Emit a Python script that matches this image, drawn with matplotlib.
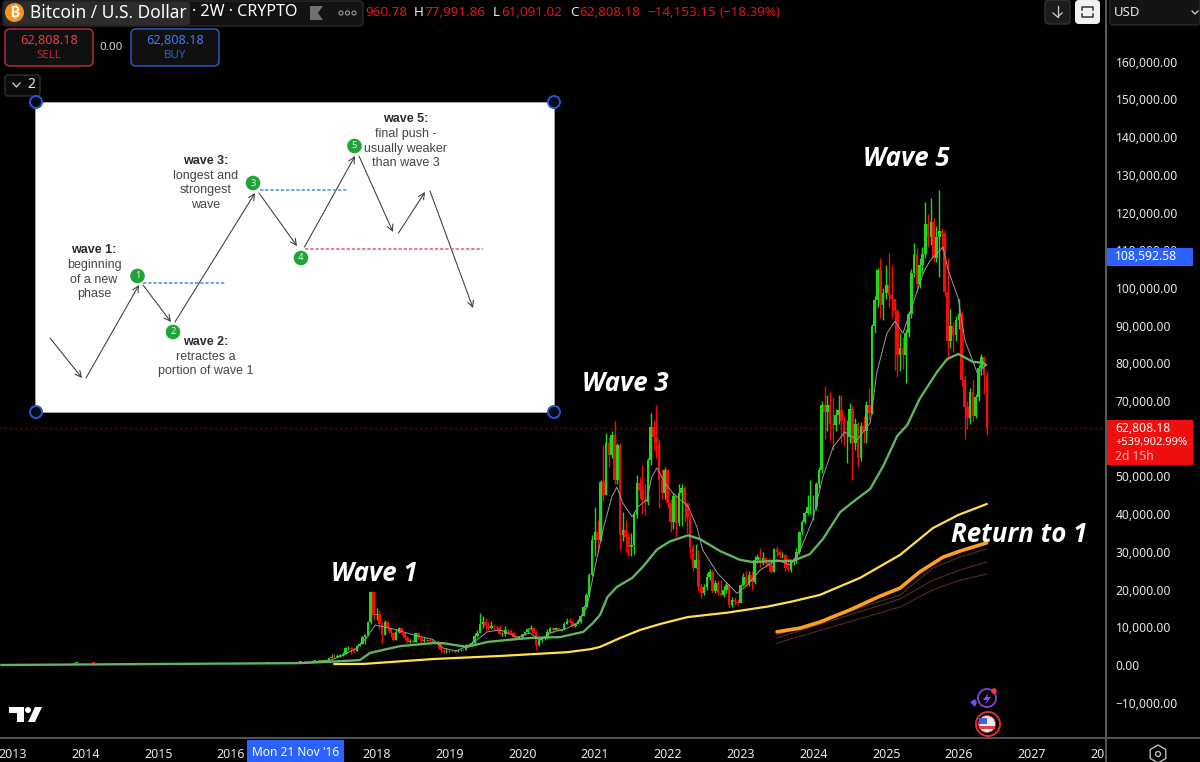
import numpy as np
import matplotlib
matplotlib.use("Agg")
import matplotlib.pyplot as plt
from matplotlib.patches import FancyBboxPatch, Rectangle, Circle, Polygon, RegularPolygon

# ---------- data (prices in thousands of USD unless noted) ----------
closes_2013 = [.013,.014,.017,.021,.026,.033,.047,.09,.11,.12,.12,.125,.11,.09,.09,.1,.12,.13,.14,.14,.18,.2,.4,.85,.8,.75]
closes_2014 = [.8,.85,.7,.6,.55,.45,.45,.5,.45,.45,.55,.6,.62,.6,.6,.55,.5,.45,.4,.35,.38,.36,.37,.38,.35,.32]
closes_2015 = [.3,.22,.24,.25,.27,.28,.25,.24,.23,.24,.23,.24,.28,.28,.29,.27,.23,.23,.24,.25,.28,.35,.33,.37,.43,.43]
closes_2016 = [.43,.38,.38,.43,.42,.42,.42,.45,.46,.53,.58,.65,.65,.67,.65,.57,.57,.6,.6,.62,.63,.72,.73,.77,.9,.95]
candles_2017 = [(1.0,1.1,.9),(1.0,1.05,.9),(1.0,1.1,.95),(1.15,1.2,1.0),(1.2,1.3,1.1),(1.25,1.3,1.0),(1.1,1.25,1.0),(1.25,1.3,1.1),(1.4,1.5,1.2),(1.8,1.9,1.4),
 (2.2,2.8,1.8),(2.1,2.8,1.9),(2.3,2.9,2.0),(2.6,3.0,2.2),(3.0,3.4,2.5),(4.4,4.7,3.0),(4.5,5.0,4.0),(4.2,4.9,3.0),(3.7,4.4,3.1),(5.0,5.3,3.7),
 (5.7,6.1,5.0),(7.5,7.8,5.5),(8.0,8.3,5.6),(11.5,11.8,7.8),(19.3,19.6,11.0),(13.2,17.5,12.0)]
candles_2018 = [(13.5,15.0,12.0),(11.0,14.5,9.5),(8.0,11.5,5.9),(11.5,12.0,8.0),(9.7,11.8,9.0),(8.4,10.2,7.5),(6.6,8.8,6.3),(8.8,9.5,6.5),(9.7,10.0,8.5),(8.4,9.9,8.0),
 (7.1,8.5,6.7),(6.0,7.6,5.9),(6.4,6.8,5.8),(6.1,6.9,5.8),(8.4,8.6,6.0),(7.2,8.5,6.8),(6.4,7.4,5.9),(6.6,7.4,6.0),(6.6,7.0,6.3),(6.4,6.8,6.1),
 (6.4,6.7,6.2),(6.3,6.5,6.0),(5.5,6.4,4.4),(4.0,4.6,3.2),(3.7,4.2,3.2),(3.8,4.4,3.3)]
candles_2019 = [(3.8,4.1,3.4),(3.6,4.1,3.4),(3.7,3.9,3.4),(3.9,4.2,3.5),(4.0,4.2,3.8),(4.1,4.3,3.9),(5.2,5.5,4.0),(5.3,5.6,5.0),(5.8,6.3,5.2),(7.8,8.4,5.6),
 (8.6,9.4,7.5),(10.8,13.7,8.4),(11.5,13.0,9.7),(10.3,12.5,9.3),(9.8,11.5,9.2),(10.4,11.6,9.5),(10.1,10.9,9.4),(9.7,10.5,9.3),(8.2,10.5,8.0),(8.3,8.8,7.7),
 (9.2,10.4,7.8),(9.0,9.5,8.3),(8.6,9.5,8.1),(7.3,9.1,6.5),(7.2,7.8,6.6),(7.3,7.7,6.9)]
candles_2020 = [(8.1,8.3,7.0),(8.8,9.1,8.0),(9.5,9.8,8.5),(9.8,10.5,9.2),(8.6,10.2,8.4),(5.2,9.2,4.0),(6.6,6.9,5.0),(6.9,7.3,6.2),(7.1,7.5,6.6),(8.8,9.5,7.0),
 (9.7,10.0,8.6),(9.4,10.0,8.6),(9.7,10.2,9.2),(9.1,9.9,8.9),(9.3,9.5,9.0),(11.0,11.4,9.2),(11.7,12.4,11.0),(11.5,12.4,11.2),(10.4,12.0,10.0),(10.8,11.2,10.2),
 (11.4,12.0,10.8),(13.0,13.5,11.2),(15.5,16.0,13.0),(18.6,19.0,15.2),(23.9,24.3,18.0),(33.2,34.5,23.5)]
candles_2021 = [(35.4,42,29),(33.2,38.5,30),(48.6,49,33),(45.1,58.4,43.5),(58.8,61.5,45),(55.7,60.6,52.6),(61,62,55),(49,64.6,48),(58.4,59,48),(34.5,59,30.5),
 (35.8,40.7,33),(34,38.5,30),(31.4,35,28.8),(31.8,35,29),(39.8,40.5,29.5),(48.2,50.4,39),(46.4,50,44),(43.8,53,40),(43.3,48,39.8),(54.4,55,42.5),
 (63.2,66.8,53),(60.5,65,57),(58.8,69,55),(49,60,41.6),(45.5,52,44),(51.7,52.5,44)]
candles_2022 = [(42.9,52,41.6),(38,44,35.4),(44.7,45.5,36),(37.6,43,34),(45.5,48,37),(46.9,48,37),(42.9,47.5,38),(39.3,43,35),(31.4,40,28.5),(25.6,32,25),
 (27.9,32,26),(20.8,30.5,19.5),(19,21.5,17.7),(20.8,21.5,18.5),(23.4,24.5,20),(24.8,25.5,22.5),(19.5,25.3,19),(21.7,22.5,19),(19,22.5,18.5),(18.6,22.5,18.2),
 (19.9,21,18),(21.2,22,19),(15.9,21.5,15.5),(17.2,18,15.5),(16.8,18,16),(16.5,17.5,16)]
candles_2023 = [(21.2,21.5,16.4),(23.4,24.5,21),(21.5,25,21),(23.9,25,21),(21.9,25,20),(27.9,29,21.5),(28.6,29.5,27),(27,31,26),(28.3,30,26.5),(27,28.5,26),
 (26.5,28.5,25),(24.8,27.5,24.5),(30.9,31,25),(30,31.5,29),(29.2,30.5,28.5),(29.3,30,28.5),(25.6,29.5,25),(25.2,28.5,25),(27.4,28,24.8),(27.9,28.5,26.5),
 (30,31,27),(35.4,35.6,29.5),(38,38.5,34.5),(40.2,40.8,37.5),(42,45,39.8),(42,49,40)]
candles_2024 = [(42,45,38.5),(48,48.5,41),(51.6,52.5,47),(69,70,51),(67,74,60),(69,71.5,62),(64,72.5,59.5),(63.7,71,57),(66.3,68,62),(67.7,71.5,64),
 (64.6,71.5,59),(60.6,66,58),(60.6,65,53.5),(68,69.5,59),(58.8,69,49),(64,65.5,57),(55,64.5,52.6),(63.3,64.5,54),(62,66,58.8),(69,70,59),
 (66.8,73.5,65),(89.8,90.5,66.5),(96.8,98,88),(104.8,105.3,95),(95.5,108,92),(98.6,100,91.5)]
candles_2025 = [(100.8,106,97),(98.2,109.2,95),(97,106,92),(93.8,97,78.3),(82.2,94.5,76.5),(84,88,78),(82.2,87,78.6),(88,89,74.7),(93,94,87),(104,105,92),
 (108.8,112,103),(101,110.5,99),(106,108,100),(109,111,104),(117,122.9,108),(113.5,119.5,111),(117.5,124,111.5),(108,118.5,107),(113.5,116.5,107),(115,126,103),
 (114.5,116,110),(99,115.5,98),(86,108,80.9),(90,94.5,84),(87.5,91,83),(91.5,92.5,86)]
candles_2026 = [(93,97,89),(75.6,94,74),(68.5,77,60),(65.5,70,62.5),(72.4,73.5,64),(66,75.6,64.5),(71,72,65.5),(78.8,79.5,70),(81.7,82.5,77),(77,82,72),(62.8,78,61)]

green_ma_years = [2012.83,2016.95,2017.40,2017.77,2017.91,2018.09,2018.32,2018.77,2018.91,2019.24,2019.52,2019.93,2020.15,2020.52,2020.84,2020.97,2021.07,2021.17,2021.30,2021.51,2021.66,2021.85,2022.03,2022.28,2022.44,2022.72,2022.99,2023.17,2023.45,2023.72,2023.95,2024.13,2024.37,2024.54,2024.78,2024.96,2025.15,2025.29,2025.46,2025.70,2025.84,2025.99,2026.19,2026.33,2026.38]
green_ma_vals = [0.0,0.5,0.9,1.3,3.2,4.0,5.0,5.8,5.8,4.8,6.1,6.9,7.2,7.4,8.8,11.1,13.3,18,20.7,23.1,26.1,30.6,32.8,34.4,33.4,30.2,27.9,27.3,27.6,27.6,29.4,33.4,40.6,43.2,46.7,52.8,60.7,63.7,70.6,77.8,81.2,82.5,80.4,80.2,79.4]
grey_ma_years = [2016.95,2017.36,2017.54,2017.73,2017.87,2017.98,2018.05,2018.28,2018.50,2018.77,2018.91,2019.10,2019.32,2019.52,2019.70,2019.93,2020.11,2020.24,2020.38,2020.62,2020.75,2020.89,2021.0,2021.11,2021.23,2021.30,2021.38,2021.51,2021.59,2021.71,2021.78,2021.85,2021.96,2022.07,2022.28,2022.40,2022.48,2022.68,2022.81,2022.95,2023.09,2023.27,2023.50,2023.68,2023.82,2023.99,2024.13,2024.27,2024.43,2024.60,2024.78,2024.87,2025.01,2025.12,2025.23,2025.37,2025.51,2025.60,2025.78,2025.85,2025.99,2026.08,2026.25,2026.38]
grey_ma_vals = [0.6,1.2,2.6,4.5,7.4,10.6,10.3,9.3,8.0,6.8,4.5,3.7,5.8,8.8,9.3,7.4,8.5,6.6,8.5,9.8,11.1,15.4,26,35.8,44.6,47.2,43,39.3,42,43.8,49.9,52.3,48.3,45.6,42,36.6,30.5,24.4,21.8,19,21.2,25.2,27.9,26.5,30.5,38.5,49.9,57.8,61.8,59.7,64.2,77.5,88,91.2,88,96,104,107.2,110.9,104.8,97.3,86.2,77.5,79.6]
yellow_years = [2017.42,2017.83,2018.79,2019.70,2020.62,2020.94,2021.07,2021.35,2021.62,2021.90,2022.27,2022.82,2023.37,2023.72,2024.09,2024.64,2025.19,2025.64,2025.99,2026.38]
yellow_vals = [0.25,0.3,1.6,2.4,3.4,4.2,4.8,7.2,9.3,10.9,12.7,13.9,15.5,16.9,18.6,23.1,29.2,36.3,39.8,42.7]
orange_years = [2023.50,2023.82,2024.09,2024.50,2024.92,2025.19,2025.46,2025.78,2026.01,2026.38]
orange_vals = [8.8,9.8,11.4,14.6,18.3,20.4,24.7,28.6,30.2,32.4]
band_years = [2023.50,2025.19,2025.64,2026.01,2026.38]
band_a_vals = [8.0,18.6,25.7,28.6,30.8]
band_b_vals = [7.2,17.5,22.5,25.2,27.3]
band_c_vals = [5.8,15.4,19.9,22.5,24.1]

price_ticks = list(range(-10000, 170000, 10000))
hidden_price_ticks = [60000]
year_ticks = list(range(2013, 2029))
hidden_year_ticks = [2017]
last_price = 62808.18
blue_tag_price = 108592.58
wave_labels = [("Wave 1", 2017.97, 24.4), ("Wave 3", 2021.41, 74.7), ("Wave 5", 2025.27, 134.4), ("Return to 1", 2026.82, 34.7)]

# ---------- figure ----------
W, H = 1200, 762
plt.rcParams['font.family'] = ['Noto Sans', 'DejaVu Sans']
fig = plt.figure(figsize=(12, 7.62), dpi=100, facecolor='black')
AXW, AXH = 1106, 738
ax = fig.add_axes([0, (H - AXH) / H, AXW / W, AXH / H], facecolor='black')
x0 = 2026 - 959 / 72.8
x1 = 2026 + (AXW - 959) / 72.8
ax.set_xlim(x0, x1)
ax.set_ylim(-(AXH - 665) / 3.77 * 1000, 665 / 3.77 * 1000)

# candles
STEP = 14 / 365.25
dates, opens, highs, lows, closes = [], [], [], [], []
prev = 0.012
for yr, vals in [(2013, closes_2013), (2014, closes_2014), (2015, closes_2015), (2016, closes_2016)]:
    for i, c in enumerate(vals):
        dates.append(yr + i * STEP); opens.append(prev); closes.append(c)
        highs.append(max(prev, c)); lows.append(min(prev, c)); prev = c
for yr, vals in [(2017, candles_2017), (2018, candles_2018), (2019, candles_2019), (2020, candles_2020),
                 (2021, candles_2021), (2022, candles_2022), (2023, candles_2023), (2024, candles_2024),
                 (2025, candles_2025), (2026, candles_2026)]:
    for i, (c, h, l) in enumerate(vals):
        dates.append(yr + i * STEP); opens.append(prev); closes.append(c)
        highs.append(max(h, prev, c)); lows.append(min(l, prev, c)); prev = c
d = np.array(dates); o = np.array(opens) * 1000; c = np.array(closes) * 1000
hi = np.array(highs) * 1000; lo = np.array(lows) * 1000
up = c >= o
UPC, DNC = '#1fd81c', '#f40c0c'
cols = np.where(up, UPC, DNC)
ax.vlines(d, lo, hi, colors=cols, linewidth=1.0, zorder=2)
ax.bar(d, np.abs(c - o), bottom=np.minimum(o, c), width=0.036, color=cols, linewidth=0, zorder=3)

# overlays
def k(v):
    return np.array(v) * 1000
ax.plot(band_years, k(band_c_vals), color='#5c2520', lw=0.8, zorder=4)
ax.plot(band_years, k(band_b_vals), color='#55301c', lw=0.8, zorder=4)
ax.plot(band_years, k(band_a_vals), color='#4a2e10', lw=0.9, zorder=4)
ax.plot(orange_years, k(orange_vals), color='#ff9f1c', lw=2.6, zorder=5, solid_capstyle='round')
ax.plot(yellow_years, k(yellow_vals), color='#ffe14a', lw=1.6, zorder=5)
ax.plot(green_ma_years, k(green_ma_vals), color='#5fb560', lw=1.7, zorder=5, solid_joinstyle='round', solid_capstyle='butt')
ax.plot(grey_ma_years, k(grey_ma_vals), color='#9a9a9a', lw=0.7, zorder=6)
ax.axhline(last_price, color='#a51d1d', lw=0.9, ls=(0, (1, 3)), zorder=1)

# axes
ax.yaxis.tick_right()
ax.set_yticks(price_ticks)
ax.set_yticklabels(['' if v in hidden_price_ticks else f"{v:,.2f}".replace('-', '\u2212') for v in price_ticks],
                   color='#e8e8e8', fontsize=8.7)
ax.set_xticks(year_ticks)
ax.set_xticklabels(['' if y in hidden_year_ticks else str(y) for y in year_ticks], color='#e8e8e8', fontsize=9, fontweight='semibold')
ax.tick_params(axis='y', length=0, pad=7)
ax.tick_params(axis='x', length=0, pad=7)
for s in ['top', 'left']:
    ax.spines[s].set_visible(False)
for s in ['right', 'bottom']:
    ax.spines[s].set_color('#5a5a5a'); ax.spines[s].set_linewidth(1.3)

for txt, xv, yv in wave_labels:
    ax.text(xv, yv * 1000, txt, color='white', fontsize=18.6, fontstyle='italic', fontweight='bold',
            family=['Open Sans', 'DejaVu Sans'], ha='center', va='center', zorder=8)

# ---------- overlay in figure pixels: interface parts and the pasted diagram ----------
ov = fig.add_axes([0, 0, 1, 1], facecolor='none', zorder=10)
ov.set_xlim(0, W); ov.set_ylim(H, 0); ov.axis('off')

def box(x, y, w, h, fc, ec='none', lw=1, r=3):
    ov.add_patch(FancyBboxPatch((x + r, y + r), w - 2 * r, h - 2 * r, boxstyle=f"round,pad={r}",
                                fc=fc, ec=ec, lw=lw))
def t(x, y, s, color='white', size=9, ha='left', va='center', **kw):
    ov.text(x, y, s, color=color, fontsize=size, ha=ha, va=va, **kw)

# header
box(3, 1, 360, 25, '#131313', '#2a2a2a')
box(4, 2, 186, 23, '#2c2c2c')
ov.add_patch(Circle((14.5, 12.5), 9.5, fc='#f7931a', ec='none'))
t(14.5, 12.5, '\u20bf', size=10, ha='center', family=['Inter', 'Roboto', 'Noto Sans', 'Open Sans', 'Lato', 'DejaVu Sans'], fontweight='bold')
t(30, 12.5, 'Bitcoin / U.S. Dollar', size=12.5)
t(192, 12.5, '\u00b7 2W \u00b7 CRYPTO', size=11.6)
ov.add_patch(Polygon([(310, 6), (323, 6), (318, 13), (323, 20), (310, 20)], fc='#707070', ec='none'))
for xp in (341, 347.5, 354):
    ov.add_patch(Circle((xp, 13), 2, fc='none', ec='#9a9a9a', lw=0.8))
RED = '#e01515'
parts = [(365, '960.78', RED), (414, 'H', '#e8e8e8'), (424, '77,991.86', RED), (493, 'L', '#e8e8e8'), (501, '61,091.02', RED),
         (570, 'C', '#e8e8e8'), (579, '62,808.18', RED), (647, '\u221214,153.15', RED), (720, '(\u221218.39%)', RED)]
for xp, s, col in parts:
    t(xp, 12, s, color=col, size=9.7)

# buttons
box(5, 29, 88, 37, '#101010', '#c6303e', lw=1, r=5)
t(49, 41, '62,808.18', color='#e5394a', size=9.2, ha='center')
t(49, 55, 'SELL', color='#b92a38', size=8.3, ha='center')
t(111, 47, '0.00', color='#d8d8d8', size=8.3, ha='center')
box(131, 29, 88, 37, '#101010', '#2f5fd0', lw=1, r=5)
t(175, 41, '62,808.18', color='#3f78f0', size=9.2, ha='center')
t(175, 55, 'BUY', color='#2f5fc0', size=8.3, ha='center')
box(5, 75, 35, 21, '#0a0a0a', '#2e2e2e', lw=1, r=3)
ov.plot([13, 16.5, 20], [83, 87, 83], color='#d8d8d8', lw=0.9)
t(27, 85, '2', color='#e8e8e8', size=10)

# top right controls
box(1045, 0, 25, 24, '#1c1c1c', '#333333', r=4)
ov.plot([1057.5, 1057.5], [6, 17], color='#d0d0d0', lw=0.9)
ov.plot([1053, 1057.5, 1062], [13, 17, 13], color='#d0d0d0', lw=0.9)
box(1075, 0, 25, 24, '#f2f2f2', r=4)
ov.plot([1082, 1082, 1093, 1093], [10, 7, 7, 10], color='#333333', lw=1.1)
ov.plot([1082, 1082, 1093, 1093], [14, 17, 17, 14], color='#333333', lw=1.1)
box(1110, -4, 90, 29, '#131313', '#2a2a2a', r=3)
t(1114, 13, 'USD', color='#e8e8e8', size=9.5)
ov.plot([1192, 1195, 1198], [11, 14, 11], color='#d0d0d0', lw=0.9)

# right panel tags
ov.add_patch(Rectangle((AXW + 1, 248), 86, 18, fc='#2962ff', ec='none'))
t(1115, 257, f"{blue_tag_price:,.2f}", size=8.7)
ov.add_patch(Rectangle((AXW + 1, 420), 86, 45, fc='#f00f0f', ec='none'))
t(1115, 428, f"{last_price:,.2f}", size=8.7)
t(1115, 442, '+539,902.99%', size=8)
t(1115, 456, '2d 15h', color='#ffb3b3', size=8.7)

# bottom strip
ov.add_patch(Rectangle((AXW + 0.7, AXH + 1), W - AXW, H - AXH, fc='black', ec='none'))
ov.plot([AXW, AXW], [0, H], color='#5a5a5a', lw=1.3)
ov.plot([AXW, W], [AXH, AXH], color='#5a5a5a', lw=1.3)
ov.add_patch(Rectangle((247, 740), 97, 22, fc='#2962ff', ec='none'))
t(295.5, 752, "Mon 21 Nov '16", size=8.6, ha='center')
ov.add_patch(RegularPolygon((1158, 754), 6, radius=9, orientation=0, fc='none', ec='#bdbdbd', lw=1))
ov.add_patch(Circle((1158, 754), 2.5, fc='none', ec='#bdbdbd', lw=1))

# TradingView mark
ov.add_patch(Polygon([(9, 707), (24, 707), (24, 722), (17, 722), (17, 713), (9, 713)], fc='white', ec='none'))
ov.add_patch(Circle((28, 710), 3, fc='white', ec='none'))
ov.add_patch(Polygon([(28, 722), (35, 707), (42, 707), (35, 722)], fc='white', ec='none'))

# event icons
ov.add_patch(Circle((987, 698), 9, fc='none', ec='#7b3fc9', lw=1.4))
ov.add_patch(Polygon([(989, 692), (983, 700), (987, 700), (985, 705), (991, 697), (987, 697)], fc='#8d4fe0', ec='none'))
ov.add_patch(Polygon([(970, 702), (975, 699), (977, 702), (975, 707)], fc='#5a5af0', ec='none'))
ov.add_patch(Circle((994, 691), 2.8, fc='#f23645', ec='none'))
ov.add_patch(Circle((988, 724), 12, fc='black', ec='#d9303a', lw=1.4))
ov.add_patch(Circle((987, 724), 8.5, fc='#e9e9e9', ec='#d9303a', lw=0.6))
ov.add_patch(Rectangle((979, 726), 16, 3, fc='#e04040', ec='none'))
ov.add_patch(Rectangle((979, 718), 8, 6, fc='#3a66d8', ec='none'))

# pasted Elliott wave diagram
ov.add_patch(Rectangle((35, 102), 519, 310, fc='white', ec='#b0b0b0', lw=0.5, zorder=2))
diagram_arrows = [((50, 338), (82, 378)), ((86, 378), (139, 285)), ((143, 285), (171, 322)), ((175, 322), (255, 193)),
                  ((259, 193), (297, 246)), ((304.5, 247), (355, 156)), ((359, 156), (393, 232)), ((398.5, 233), (425, 192)), ((430, 191), (473, 308))]
for a, b in diagram_arrows:
    ov.annotate('', xy=b, xytext=a, zorder=3, arrowprops=dict(arrowstyle='->', color='#3a3a3a', lw=0.75, mutation_scale=11, shrinkA=0, shrinkB=0))
for (xa, xb, yy, col) in [(143, 225, 283, '#4a8fd0'), (260, 348, 190, '#4a8fd0'), (304.5, 483, 249, '#d8626a')]:
    ov.plot([xa, xb], [yy, yy], color=col, lw=1.1, ls=(0, (2.2, 1.2)), zorder=3)
for n, (xp, yp) in zip('12345', [(137.5, 276), (173, 332), (253, 183), (301, 258), (354.5, 146)]):
    ov.add_patch(Circle((xp, yp), 7.3, fc='#1fa33a', ec='none', zorder=4))
    t(xp, yp, n, color='#d8f5dc', size=6.8, ha='center', zorder=5)
diagram_text = [(94, 250, 'wave 1:', True), (94, 265, 'beginning', False), (94, 280, 'of a new', False), (94, 294, 'phase', False),
                (206, 342, 'wave 2:', True), (206, 357, 'retractes a', False), (206, 371, 'portion of wave 1', False),
                (206, 161, 'wave 3:', True), (206, 176, 'longest and', False), (206, 190, 'strongest', False), (206, 205, 'wave', False),
                (406, 119, 'wave 5:', True), (406, 134, 'final push -', False), (406, 149, 'usually weaker', False), (406, 163, 'than wave 3', False)]
for xp, yp, s, b in diagram_text:
    t(xp, yp, s, color='#2c2c2c' if b else '#444444', size=9, ha='center', zorder=5,
      family=['Liberation Sans'], fontweight='bold' if b else 'normal')
for xp, yp in [(36, 102), (554, 102), (36, 412), (554, 412)]:
    ov.add_patch(Circle((xp, yp), 6, fc='#050a1a', ec='#2a55d0', lw=1.4, zorder=6))

fig.savefig('out.png', dpi=100, facecolor='black')
